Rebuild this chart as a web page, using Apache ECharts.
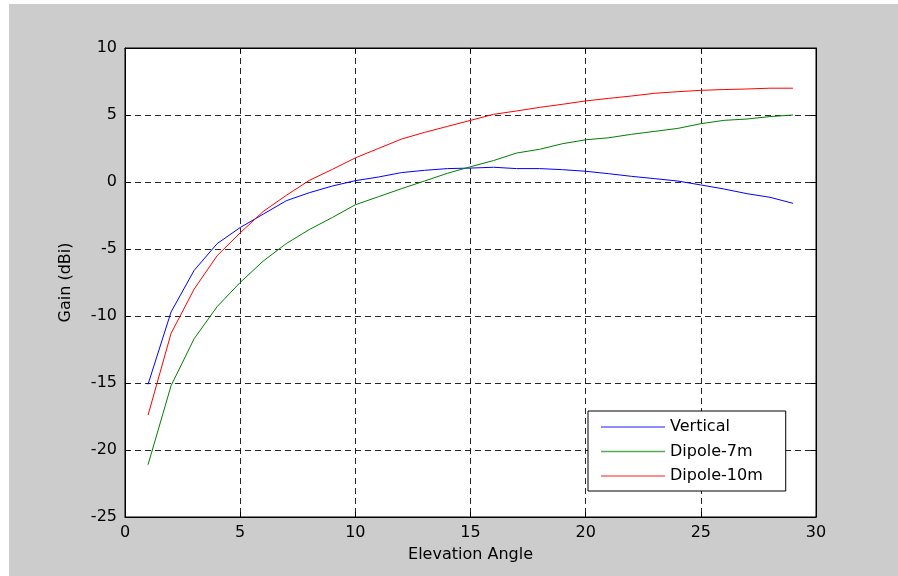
<!DOCTYPE html>
<html>
<head>
<meta charset="utf-8">
<script src="https://cdn.jsdelivr.net/npm/echarts@6/dist/echarts.min.js"></script>
<style>
html,body{margin:0;padding:0;background:#ffffff;width:898px;height:576px;overflow:hidden;}
#c{position:absolute;left:9px;top:4px;width:889px;height:572px;}
</style>
</head>
<body>
<div id="c"></div>
<script>
const angles = [1,2,3,4,5,6,7,8,9,10,11,12,13,14,15,16,17,18,19,20,21,22,23,24,25,26,27,28,29];
const vertical = [-15.1,-9.7,-6.6,-4.6,-3.4,-2.4,-1.4,-0.8,-0.3,0.1,0.37,0.7,0.87,1.0,1.04,1.1,1.0,1.0,0.92,0.8,0.62,0.42,0.25,0.07,-0.22,-0.52,-0.87,-1.14,-1.59];
const dipole7 = [-21.1,-15.2,-11.7,-9.3,-7.5,-5.9,-4.6,-3.55,-2.65,-1.7,-1.1,-0.5,0.07,0.65,1.14,1.6,2.16,2.44,2.86,3.15,3.3,3.56,3.78,4.0,4.35,4.6,4.7,4.88,5.0];
const dipole10 = [-17.4,-11.3,-8.0,-5.5,-3.8,-2.2,-1.0,0.12,0.94,1.8,2.5,3.2,3.7,4.15,4.6,5.05,5.3,5.57,5.8,6.05,6.24,6.42,6.62,6.74,6.84,6.9,6.94,7.0,7.0];
const seriesNames = ['Vertical','Dipole-7m','Dipole-10m'];
const xTicks = {min:0, max:30, interval:5};
const yTicks = {min:-25, max:10, interval:5};

const chart = echarts.init(document.getElementById('c'));
const font = 'DejaVu Sans, sans-serif';
const pair = arr => angles.map((a,i)=>[a,arr[i]]);
const gridLine = {show:true, lineStyle:{color:'#000', type:[6,4], width:1, opacity:0.85}};
const axisLine = {show:true, onZero:false, lineStyle:{color:'#000'}};
const tick = {show:true, inside:true, length:5, lineStyle:{color:'#000'}};
chart.setOption({
  backgroundColor:'#cccccc',
  animation:false,
  grid:{left:116, top:44, right:82, bottom:59, show:true, backgroundColor:'#ffffff', borderColor:'#000', borderWidth:1},
  legend:{
    orient:'vertical', left:579, top:407,
    backgroundColor:'#ffffff', borderColor:'#000', borderWidth:1, borderRadius:0,
    padding:[8,23,7,13], itemGap:8.5, itemWidth:64, itemHeight:1.5, icon:'rect',
    textStyle:{fontFamily:font, fontSize:16, color:'#000'},
    data:seriesNames
  },
  xAxis:[{
    type:'value', min:xTicks.min, max:xTicks.max, interval:xTicks.interval,
    name:'Elevation Angle', nameLocation:'middle', nameGap:30,
    nameTextStyle:{fontFamily:font, fontSize:16, color:'#000'},
    axisLine:axisLine, axisTick:tick,
    axisLabel:{fontFamily:font, fontSize:16, color:'#000', margin:8},
    splitLine:gridLine
  },{
    type:'value', position:'top', min:xTicks.min, max:xTicks.max, interval:xTicks.interval,
    axisLine:axisLine, axisTick:tick,
    axisLabel:{show:false}, splitLine:{show:false}
  }],
  yAxis:[{
    type:'value', min:yTicks.min, max:yTicks.max, interval:yTicks.interval,
    name:'Gain (dBi)', nameLocation:'middle', nameGap:51, nameRotate:90,
    nameTextStyle:{fontFamily:font, fontSize:16, color:'#000'},
    axisLine:axisLine, axisTick:tick,
    axisLabel:{fontFamily:font, fontSize:16, color:'#000', margin:8},
    splitLine:gridLine
  },{
    type:'value', position:'right', min:yTicks.min, max:yTicks.max, interval:yTicks.interval,
    axisLine:axisLine, axisTick:tick,
    axisLabel:{show:false}, splitLine:{show:false}
  }],
  series:[
    {name:seriesNames[0], type:'line', data:pair(vertical), symbol:'none', lineStyle:{color:'#0000ff', width:1}, itemStyle:{color:'#6666ff'}},
    {name:seriesNames[1], type:'line', data:pair(dipole7), symbol:'none', lineStyle:{color:'#008000', width:1}, itemStyle:{color:'#55aa55'}},
    {name:seriesNames[2], type:'line', data:pair(dipole10), symbol:'none', lineStyle:{color:'#ff0000', width:1}, itemStyle:{color:'#ff6666'}}
  ]
});
</script>
</body>
</html>
